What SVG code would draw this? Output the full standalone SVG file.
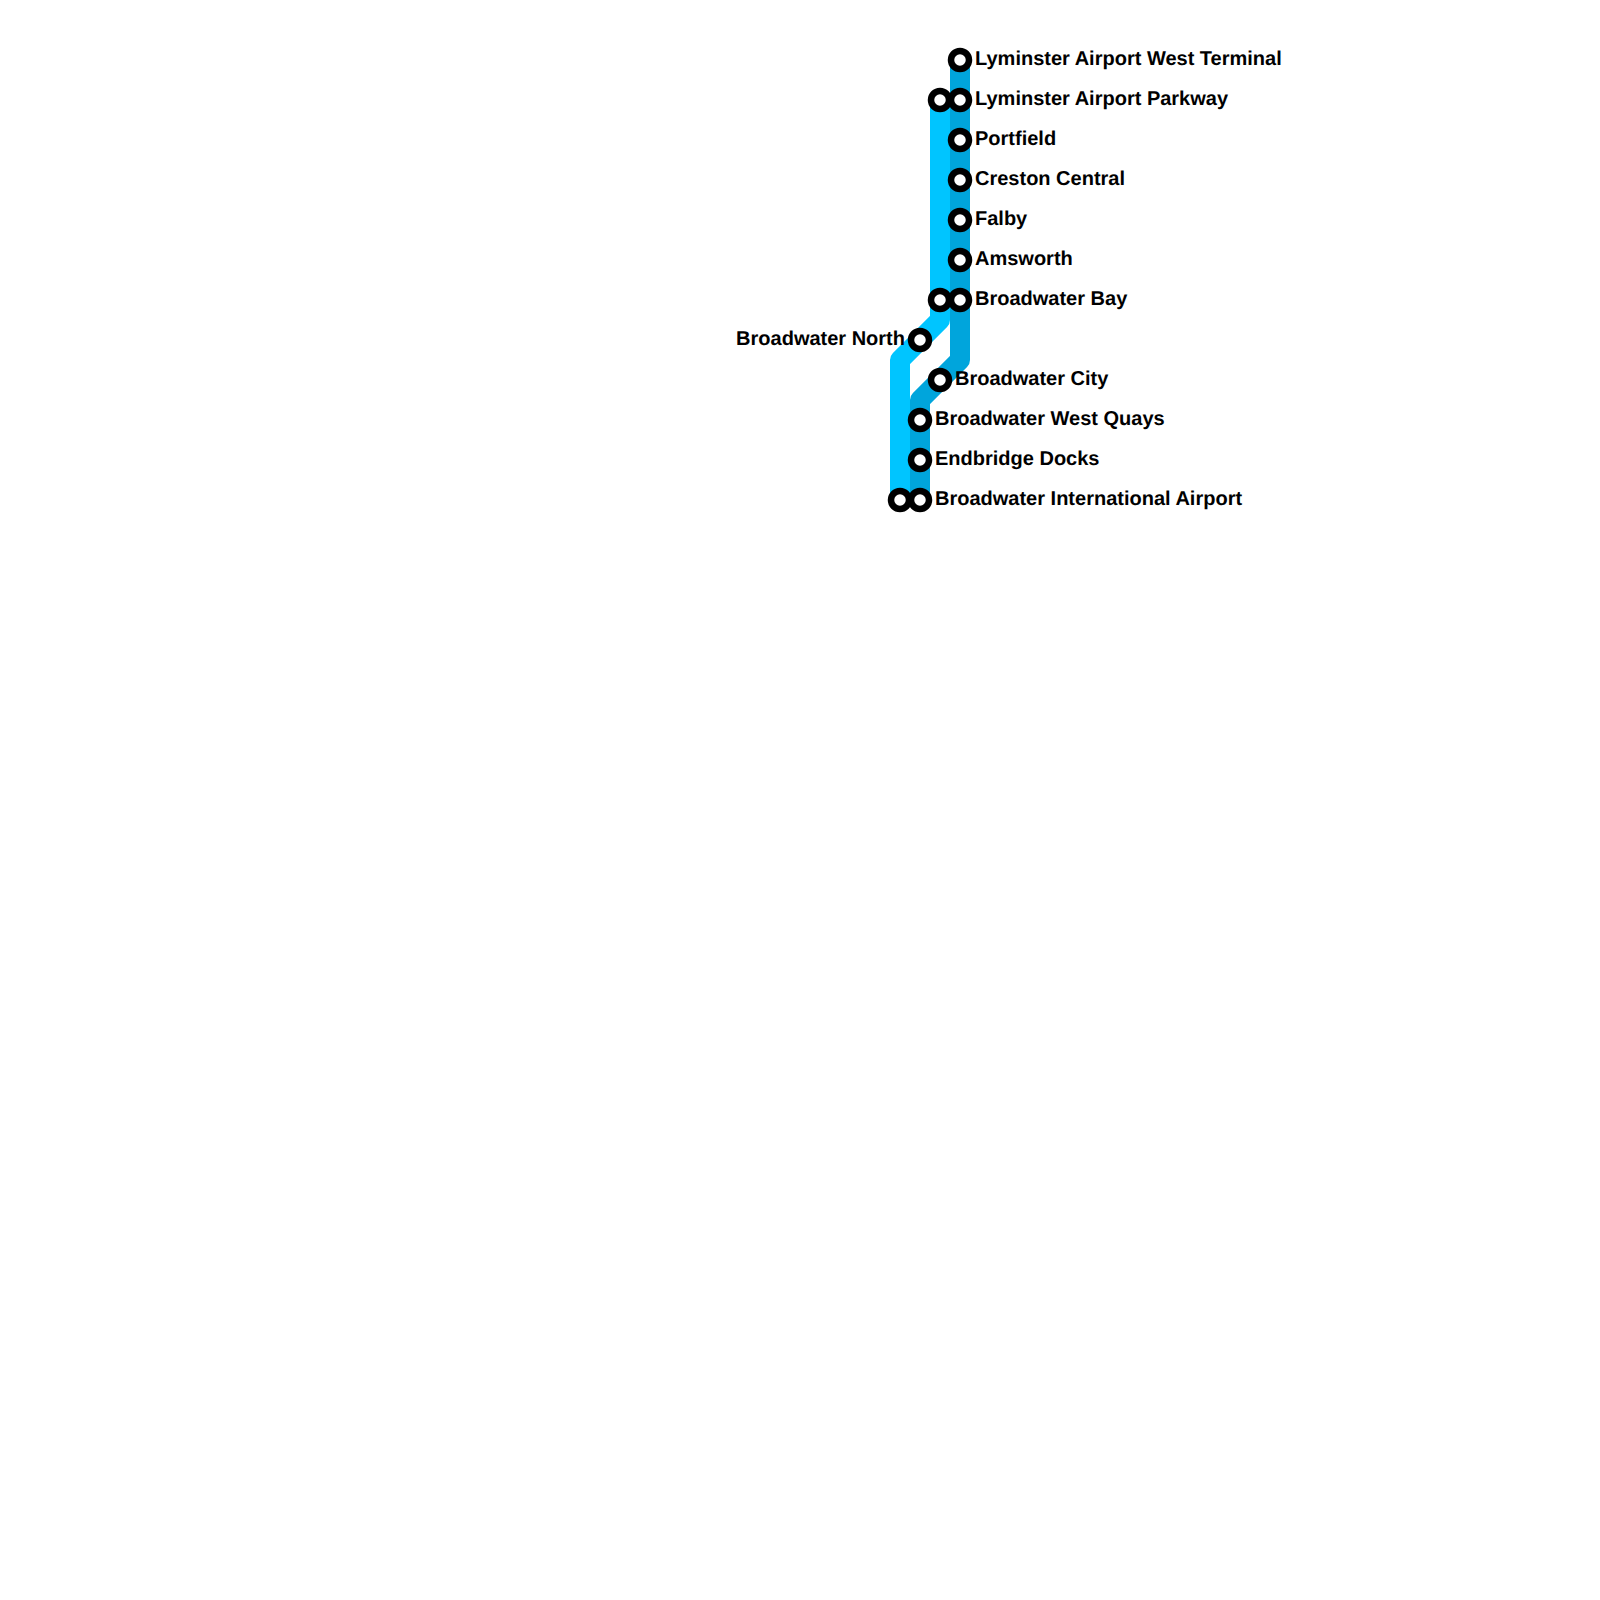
<svg xmlns="http://www.w3.org/2000/svg" width="1600" height="1600" viewBox="0 0 1600 1600">
<style>
.line{fill:none;stroke-width:20;stroke-linejoin:round}
.st{fill:#fff;stroke:#000;stroke-width:6.5}
text{font-family:"Liberation Sans",Arial,sans-serif;font-weight:bold;font-size:20px;fill:#000;text-rendering:geometricPrecision}
.l{text-anchor:end}
</style>
<rect width="1600" height="1600" fill="#fff"/>
<g id="connectors">
<path class="line" stroke="#00c5ff" d="M940 100V320L900 360V500"/>
<path class="line" stroke="#00a5dc" d="M960 60V360L920 400V500"/>
</g>
<g id="s1"><circle class="st" cx="960" cy="60" r="9"/><text x="975" y="65">Lyminster Airport West Terminal</text></g>
<g id="s2"><circle class="st" cx="940" cy="100" r="9"/><circle class="st" cx="960" cy="100" r="9"/><text x="975" y="105">Lyminster Airport Parkway</text></g>
<g id="s3"><circle class="st" cx="960" cy="140" r="9"/><text x="975" y="145">Portfield</text></g>
<g id="s4"><circle class="st" cx="960" cy="180" r="9"/><text x="975" y="185">Creston Central</text></g>
<g id="s5"><circle class="st" cx="960" cy="220" r="9"/><text x="975" y="225">Falby</text></g>
<g id="s6"><circle class="st" cx="960" cy="260" r="9"/><text x="975" y="265">Amsworth</text></g>
<g id="s7"><circle class="st" cx="940" cy="300" r="9"/><circle class="st" cx="960" cy="300" r="9"/><text x="975" y="305">Broadwater Bay</text></g>
<g id="s8"><circle class="st" cx="920" cy="340" r="9"/><text class="l" x="905" y="345">Broadwater North</text></g>
<g id="s9"><circle class="st" cx="940" cy="380" r="9"/><text x="955" y="385">Broadwater City</text></g>
<g id="s10"><circle class="st" cx="920" cy="420" r="9"/><text x="935" y="425">Broadwater West Quays</text></g>
<g id="s11"><circle class="st" cx="920" cy="460" r="9"/><text x="935" y="465">Endbridge Docks</text></g>
<g id="s12"><circle class="st" cx="900" cy="500" r="9"/><circle class="st" cx="920" cy="500" r="9"/><text x="935" y="505">Broadwater International Airport</text></g>
</svg>
